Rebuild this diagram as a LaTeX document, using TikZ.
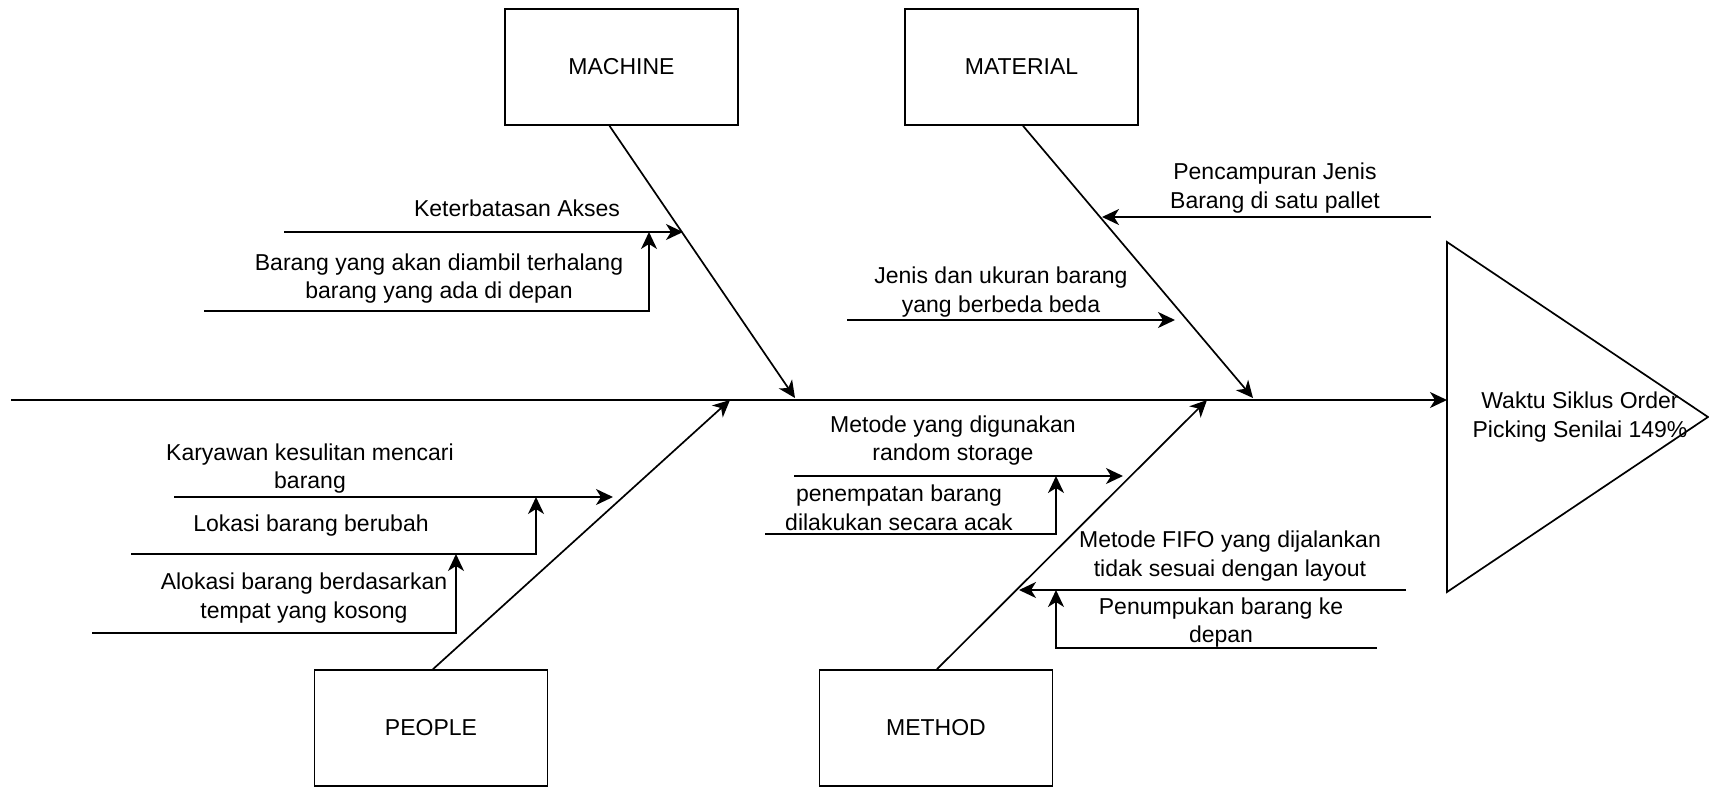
\documentclass[tikz,border=0pt]{standalone}
\usepackage{fontspec}
\setmainfont{Liberation Sans}
\usetikzlibrary{arrows.meta}
\begin{document}
\begin{tikzpicture}[x=1pt,y=-1pt,
  line width=1.7pt,
  box/.style={draw, minimum width=233pt, minimum height=116pt, inner sep=0pt, font=\fontsize{23}{28}\selectfont},
  lbl/.style={align=center, inner sep=0pt, font=\fontsize{23}{28.5}\selectfont},
  arr/.style={-{Stealth[length=17pt,width=16pt,inset=5pt]}},
]
\useasboundingbox (0,0) rectangle (1709,787);

% category boxes
\node[box] (mach) at (621.5,67) {MACHINE};
\node[box] (mat) at (1021.5,67) {MATERIAL};
\node[box] (peo) at (431,728) {PEOPLE};
\node[box] (met) at (936,728) {METHOD};

% spine and head
\coordinate (sp0) at (11,400);
\coordinate (head) at (1447,400);
\coordinate (tl) at (1447,242);
\coordinate (tb) at (1447,592);
\coordinate (ta) at (1708,417);
\draw[arr] (sp0) -- (head);
\draw[line join=miter] (tl) -- (ta) -- (tb) -- cycle;
\node[lbl] (eff) at (1580,417) {Waktu Siklus Order\\Picking Senilai 149\%};

% main bones
\coordinate (mE) at (795,398);
\coordinate (maE) at (1253,398);
\coordinate (pE) at (730,400);
\coordinate (meE) at (1207,400);
\draw[arr] ([xshift=-12pt]mach.south) -- (mE);
\draw[arr] ([xshift=1.5pt]mat.south) -- (maE);
\draw[arr] ([xshift=2pt]peo.north) -- (pE);
\draw[arr] ([xshift=1pt]met.north) -- (meE);

% MACHINE causes
\coordinate (k0) at (284,232);
\coordinate (k1) at (683,232);
\coordinate (k2) at (649,232);
\coordinate (b0) at (204,311);
\draw[arr] (k0) -- (k1);
\draw[arr] (b0) -| (k2);
\node[lbl] (tk) at (517,208) {Keterbatasan Akses};
\node[lbl] (tb1) at (439,278.5) {Barang yang akan diambil terhalang\\barang yang ada di depan};

% MATERIAL causes
\coordinate (pc0) at (1431,217);
\coordinate (pc1) at (1102,217);
\coordinate (j0) at (847,320);
\coordinate (j1) at (1175,320);
\draw[arr] (pc0) -- (pc1);
\draw[arr] (j0) -- (j1);
\node[lbl] (tpc) at (1275,188) {Pencampuran Jenis\\Barang di satu pallet};
\node[lbl] (tj) at (1001,292) {Jenis dan ukuran barang\\yang berbeda beda};

% PEOPLE causes
\coordinate (ky0) at (174,497);
\coordinate (ky1) at (613,497);
\coordinate (l0) at (131,554);
\coordinate (l1) at (536,497);
\coordinate (a0) at (92,633);
\coordinate (a1) at (456,554);
\draw[arr] (ky0) -- (ky1);
\draw[arr] (l0) -| (l1);
\draw[arr] (a0) -| (a1);
\node[lbl] (tky) at (310,468.5) {Karyawan kesulitan mencari\\barang};
\node[lbl] (tl1) at (311,526) {Lokasi barang berubah};
\node[lbl] (ta1) at (304,598) {Alokasi barang berdasarkan\\tempat yang kosong};

% METHOD causes
\coordinate (mr0) at (794,476);
\coordinate (mr1) at (1123,476);
\coordinate (pn0) at (765,534);
\coordinate (pn1) at (1056,476);
\coordinate (f0) at (1406,590);
\coordinate (f1) at (1019,590);
\coordinate (pu0) at (1377,648);
\coordinate (pu1) at (1056,590);
\draw[arr] (mr0) -- (mr1);
\draw[arr] (pn0) -| (pn1);
\draw[arr] (f0) -- (f1);
\draw[arr] (pu0) -| (pu1);
\node[lbl] (tmr) at (953,440.5) {Metode yang digunakan\\random storage};
\node[lbl] (tpn) at (899,508) {penempatan barang\\dilakukan secara acak};
\node[lbl] (tf) at (1230,556) {Metode FIFO yang dijalankan\\tidak sesuai dengan layout};
\node[lbl] (tpu) at (1221,622.5) {Penumpukan barang ke\\depan};
\end{tikzpicture}
\end{document}
